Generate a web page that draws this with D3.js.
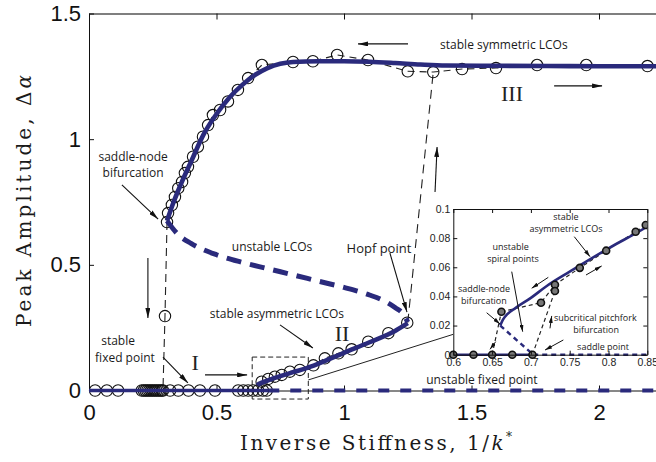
<!DOCTYPE html>
<html><head><meta charset="utf-8">
<script src="https://cdn.jsdelivr.net/npm/d3@7"></script>
<style>body{margin:0;background:#fff}svg{display:block}</style>
</head><body><svg id="chart" width="656" height="462"></svg>
<script>
// ---------- tick values ----------
const xTicks = [0, 0.5, 1, 1.5, 2];
const yTicks = [0, 0.5, 1, 1.5];
const insetXTicks = [0.6, 0.65, 0.7, 0.75, 0.8, 0.85];
const insetYTicks = [0, 0.02, 0.04, 0.06, 0.08, 0.1];

// ---------- continuation branches ----------
const stableFixedX = [0, 0.703];
const unstableFixedX = [0.703, 2.3];

const symLcoX = [0.306, 0.33, 0.36, 0.40, 0.45, 0.50, 0.55, 0.60, 0.65, 0.70, 0.75, 0.80, 0.90, 1.00, 1.10, 1.20, 1.30, 1.40, 1.60, 1.80, 2.00, 2.30];
const symLcoY = [0.675, 0.745, 0.82, 0.91, 1.02, 1.10, 1.165, 1.215, 1.255, 1.283, 1.300, 1.307, 1.310, 1.310, 1.308, 1.303, 1.297, 1.293, 1.292, 1.291, 1.290, 1.290];

const unstableLcoX = [0.306, 0.35, 0.40, 0.50, 0.60, 0.70, 0.80, 0.90, 1.00, 1.10, 1.15, 1.20, 1.235, 1.25];
const unstableLcoY = [0.675, 0.62, 0.585, 0.54, 0.51, 0.485, 0.46, 0.435, 0.41, 0.38, 0.36, 0.33, 0.30, 0.272];

const asymLcoX = [0.6605, 0.664, 0.67, 0.68, 0.70, 0.72, 0.75, 0.80, 0.85, 0.90, 1.00, 1.10, 1.20, 1.25];
const asymLcoY = [0.020, 0.024, 0.028, 0.032, 0.039, 0.047, 0.057, 0.073, 0.088, 0.107, 0.150, 0.192, 0.237, 0.268];

const spiralX = [0.6605, 0.703];
const spiralY = [0.020, 0];

// ---------- time-marching results ----------
const symPtsX = [0.306, 0.31, 0.325, 0.337, 0.35, 0.365, 0.376, 0.388, 0.408, 0.427, 0.447, 0.467, 0.486, 0.514, 0.545, 0.584, 0.624, 0.678, 0.80, 0.878, 0.973, 1.094, 1.25, 1.35, 1.463, 1.596, 1.757, 1.95, 2.19];
const symPtsY = [0.67, 0.706, 0.738, 0.77, 0.805, 0.83, 0.865, 0.89, 0.93, 0.97, 1.01, 1.056, 1.096, 1.116, 1.15, 1.196, 1.243, 1.295, 1.307, 1.31, 1.335, 1.315, 1.27, 1.267, 1.279, 1.283, 1.295, 1.295, 1.291];

const zeroPtsX = [0.024, 0.07, 0.114, 0.207, 0.215, 0.222, 0.229, 0.236, 0.243, 0.25, 0.257, 0.264, 0.271, 0.278, 0.285, 0.29, 0.318, 0.35, 0.39, 0.435, 0.494, 0.585, 0.605, 0.624, 0.643, 0.663, 0.682, 0.697];

const asymPtsX = [0.677, 0.703, 0.729, 0.756, 0.788, 0.827, 0.88, 0.925, 0.978, 1.03, 1.095, 1.174, 1.248];
const asymPtsY = [0.035, 0.046, 0.055, 0.062, 0.075, 0.082, 0.10, 0.128, 0.148, 0.164, 0.194, 0.228, 0.27];

const jumpDownX = [0.306, 0.298, 0.29];
const jumpDownY = [0.67, 0.296, 0];
const jumpUpX = [1.25, 1.35];
const jumpUpY = [0.27, 1.267];

// inset close-up results
const insetPtsX = [0.6, 0.626, 0.65, 0.676, 0.702, 0.662, 0.713, 0.731, 0.731, 0.763, 0.797, 0.835, 0.848];
const insetPtsY = [0, 0, 0, 0, 0, 0.0295, 0.0357, 0.048, 0.0437, 0.0596, 0.0714, 0.0844, 0.089];
const insetJump1X = [0.65, 0.662];
const insetJump1Y = [0, 0.0295];
const insetPathX = [0.662, 0.713, 0.731, 0.763, 0.797, 0.835, 0.848];
const insetPathY = [0.0295, 0.0357, 0.048, 0.0596, 0.0714, 0.0844, 0.089];
const insetJump2X = [0.702, 0.731, 0.731];
const insetJump2Y = [0, 0.0437, 0.048];

// ---------- layout ----------
const NAVY = "#2a2a7c";
const svg = d3.select("#chart");
const x = d3.scaleLinear().domain([0, 2.2235]).range([89, 656]);
const y = d3.scaleLinear().domain([0, 1.5]).range([390.5, 13.5]);
const xi = d3.scaleLinear().domain([0.6, 0.85]).range([453.3, 647.3]);
const yi = d3.scaleLinear().domain([0, 0.1]).range([354.7, 209]);

const zip = (xs, ys) => xs.map((v, i) => [v, ys[i]]);
const line = (sx, sy) => d3.line().x(d => sx(d[0])).y(d => sy(d[1]));
const lineC = (sx, sy) => d3.line().curve(d3.curveMonotoneX).x(d => sx(d[0])).y(d => sy(d[1]));

// arrowhead markers
const defs = svg.append("defs");
function marker(id, w, h) {
  defs.append("marker").attr("id", id).attr("markerUnits", "userSpaceOnUse")
    .attr("markerWidth", w).attr("markerHeight", h).attr("refX", w).attr("refY", h / 2)
    .attr("orient", "auto")
    .append("path").attr("d", `M0,0L${w},${h/2}L0,${h}Z`).attr("fill", "#111");
}
marker("ah", 10, 5);
marker("ahs", 7, 4);

// ---------- main axes ----------
const fontSans = "'Liberation Sans', Arial, sans-serif";
const fontSerif = "'Liberation Serif', 'Times New Roman', serif";
const fontTitle = "'DejaVu Serif', 'Liberation Serif', serif";
const fontNote = "'Open Sans', 'Noto Sans', sans-serif";

const gx = svg.append("g").attr("transform", `translate(0,${y(0)})`)
  .call(d3.axisBottom(x).tickValues(xTicks).tickSize(-5).tickSizeOuter(0).tickPadding(14).tickFormat(d3.format("")));
const gxt = svg.append("g").attr("transform", `translate(0,${y(1.5)})`)
  .call(d3.axisTop(x).tickValues(xTicks).tickSize(-6).tickSizeOuter(0).tickFormat(""));
const gy = svg.append("g").attr("transform", `translate(${x(0)},0)`)
  .call(d3.axisLeft(y).tickValues(yTicks).tickSize(-5).tickSizeOuter(0).tickPadding(8).tickFormat(d3.format("")));
[gx, gxt, gy].forEach(g => {
  g.selectAll("path.domain").attr("stroke", "#111").attr("stroke-width", 1);
  g.selectAll(".tick line").attr("stroke", "#111");
  g.selectAll("text").attr("font-family", fontSans).attr("font-size", 22).attr("fill", "#111");
});
gxt.select("path.domain").attr("stroke", "#555").attr("stroke-width", 1.6);

// axis titles
svg.append("text").attr("x", 376).attr("y", 450).attr("text-anchor", "middle")
  .attr("font-family", fontTitle).attr("font-size", 20).attr("fill", "#1a1a1a")
  .attr("textLength", 272).attr("lengthAdjust", "spacing")
  .call(t => {
    t.append("tspan").text("Inverse Stiffness, 1/");
    t.append("tspan").attr("font-style", "italic").text("k");
    t.append("tspan").attr("font-size", 12).attr("dy", -9).text("*");
  });
svg.append("text").attr("transform", "translate(31,201) rotate(-90)").attr("text-anchor", "middle")
  .attr("font-family", fontTitle).attr("font-size", 20).attr("fill", "#1a1a1a")
  .attr("textLength", 252).attr("lengthAdjust", "spacing")
  .call(t => {
    t.append("tspan").text("Peak Amplitude, Δ");
    t.append("tspan").attr("font-style", "italic").text("α");
  });

// ---------- main plot content ----------
const main = svg.append("g");

// thin dashed time-marching paths
const thinDash = (g, pts, dash) => g.append("path").datum(pts).attr("d", line(x, y))
  .attr("fill", "none").attr("stroke", "#222").attr("stroke-width", 1.1).attr("stroke-dasharray", dash);
thinDash(main, zip(symPtsX, symPtsY), "7,5");
thinDash(main, zip(jumpDownX, jumpDownY), "8,5");
thinDash(main, zip(jumpUpX, jumpUpY), "9,6");
thinDash(main, zip(asymPtsX, asymPtsY), "6,4");

// zoom box and connector
main.append("rect").attr("x", x(0.64)).attr("y", y(0.133)).attr("width", x(0.86) - x(0.64)).attr("height", y(-0.034) - y(0.133))
  .attr("fill", "none").attr("stroke", "#222").attr("stroke-width", 1).attr("stroke-dasharray", "5,3");
main.append("line").attr("x1", x(0.86)).attr("y1", y(0.042)).attr("x2", xi(0.6)).attr("y2", yi(0.014))
  .attr("stroke", "#222").attr("stroke-width", 1);

// open circles
const circ = (g, pts) => g.selectAll(null).data(pts).join("circle")
  .attr("cx", d => x(d[0])).attr("cy", d => y(d[1])).attr("r", 5.7)
  .attr("fill", "none").attr("stroke", "#111").attr("stroke-width", 1.1);
circ(main, zip(symPtsX, symPtsY));
circ(main, zeroPtsX.map(v => [v, 0]));
circ(main, zip(asymPtsX, asymPtsY));
circ(main, [[jumpDownX[1], jumpDownY[1]]]);

// continuation branches
main.append("path").datum(unstableFixedX.map(v => [v, 0])).attr("d", line(x, y))
  .attr("fill", "none").attr("stroke", NAVY).attr("stroke-width", 4).attr("stroke-dasharray", "11,11");
main.append("path").datum(stableFixedX.map(v => [v, 0])).attr("d", line(x, y))
  .attr("fill", "none").attr("stroke", NAVY).attr("stroke-width", 3.6);
main.append("path").datum(zip(unstableLcoX, unstableLcoY)).attr("d", lineC(x, y))
  .attr("fill", "none").attr("stroke", NAVY).attr("stroke-width", 5).attr("stroke-dasharray", "15,9");
main.append("path").datum(zip(symLcoX, symLcoY)).attr("d", lineC(x, y))
  .attr("fill", "none").attr("stroke", NAVY).attr("stroke-width", 4.6);
main.append("path").datum(zip(asymLcoX, asymLcoY)).attr("d", lineC(x, y))
  .attr("fill", "none").attr("stroke", NAVY).attr("stroke-width", 4.6);

// annotations
const note = (g, sx, sy, xv, yv, txt, size, fam, col) => g.append("text")
  .attr("x", sx(xv)).attr("y", sy(yv)).attr("dy", "0.35em").attr("text-anchor", "middle")
  .attr("font-family", fam || fontNote).attr("font-size", size).attr("fill", col || "#1a1a1a").text(txt);
const arrow = (g, sx, sy, a, b, m, w) => g.append("line")
  .attr("x1", sx(a[0])).attr("y1", sy(a[1])).attr("x2", sx(b[0])).attr("y2", sy(b[1]))
  .attr("stroke", "#111").attr("stroke-width", w || 1.1).attr("marker-end", `url(#${m})`);

note(main, x, y, 1.627, 1.375, "stable symmetric LCOs", 12);
note(main, x, y, 1.659, 1.184, "III", 22, fontSerif, "#222");
note(main, x, y, 0.173, 0.929, "saddle-node", 12);
note(main, x, y, 0.173, 0.865, "bifurcation", 12);
note(main, x, y, 0.718, 0.571, "unstable LCOs", 12);
note(main, x, y, 0.737, 0.304, "stable asymmetric LCOs", 12);
note(main, x, y, 0.992, 0.229, "II", 22, fontSerif, "#222");
note(main, x, y, 0.114, 0.197, "stable", 12);
note(main, x, y, 0.141, 0.129, "fixed point", 12);
note(main, x, y, 0.416, 0.113, "I", 22, fontSerif, "#222");
note(main, x, y, 1.137, 0.567, "Hopf point", 13);
note(main, x, y, 1.541, 0.042, "unstable fixed point", 12);

arrow(main, x, y, [1.251, 1.379], [1.055, 1.379], "ah");
arrow(main, x, y, [1.824, 1.212], [2.012, 1.212], "ah");
arrow(main, x, y, [1.357, 0.79], [1.365, 0.969], "ah");
arrow(main, x, y, [0.129, 0.818], [0.271, 0.682], "ah");
arrow(main, x, y, [0.231, 0.527], [0.231, 0.288], "ah");
arrow(main, x, y, [0.749, 0.261], [0.878, 0.169], "ah");
arrow(main, x, y, [0.29, 0.133], [0.388, 0.03], "ah");
arrow(main, x, y, [0.455, 0.062], [0.62, 0.062], "ah");
arrow(main, x, y, [1.18, 0.547], [1.247, 0.312], "ah");

// ---------- inset ----------
const ins = svg.append("g");
ins.append("rect").attr("x", xi(0.6)).attr("y", yi(0.1)).attr("width", xi(0.85) - xi(0.6)).attr("height", yi(0) - yi(0.1))
  .attr("fill", "#fff");
defs.append("clipPath").attr("id", "insclip").append("rect")
  .attr("x", xi(0.6) - 6).attr("y", yi(0.1)).attr("width", xi(0.85) - xi(0.6) + 6).attr("height", yi(0) - yi(0.1) + 6);
const ic = ins.append("g").attr("clip-path", "url(#insclip)");

const thinI = (pts, dash) => ic.append("path").datum(pts).attr("d", line(xi, yi))
  .attr("fill", "none").attr("stroke", "#222").attr("stroke-width", 1.2).attr("stroke-dasharray", dash);
thinI(zip(insetJump1X, insetJump1Y), "4,3");
thinI(zip(insetPathX, insetPathY), "4,3");
thinI(zip(insetJump2X, insetJump2Y), "4,3");

ic.append("path").datum([[0.703, 0], [0.86, 0]]).attr("d", line(xi, yi))
  .attr("fill", "none").attr("stroke", NAVY).attr("stroke-width", 2.4).attr("stroke-dasharray", "5,4");
ic.append("path").datum([[0.6, 0], [0.703, 0]]).attr("d", line(xi, yi))
  .attr("fill", "none").attr("stroke", NAVY).attr("stroke-width", 2.6);
ic.append("path").datum(zip(spiralX, spiralY)).attr("d", line(xi, yi))
  .attr("fill", "none").attr("stroke", NAVY).attr("stroke-width", 2.4).attr("stroke-dasharray", "5,4");
ic.append("path").datum(zip(asymLcoX, asymLcoY)).attr("d", lineC(xi, yi))
  .attr("fill", "none").attr("stroke", NAVY).attr("stroke-width", 2.6);

ic.selectAll(null).data(zip(insetPtsX, insetPtsY)).join("circle")
  .attr("cx", d => xi(d[0])).attr("cy", d => yi(d[1])).attr("r", 3.5)
  .attr("fill", "#777").attr("stroke", "#111").attr("stroke-width", 1.6);

// inset frame and ticks
const fmt = d3.format("");
const gix = ins.append("g").attr("transform", `translate(0,${yi(0)})`)
  .call(d3.axisBottom(xi).tickValues(insetXTicks).tickSize(-4).tickSizeOuter(0).tickPadding(4).tickFormat(fmt));
const gixt = ins.append("g").attr("transform", `translate(0,${yi(0.1)})`)
  .call(d3.axisTop(xi).tickValues(insetXTicks).tickSize(-4).tickSizeOuter(0).tickFormat(""));
const giy = ins.append("g").attr("transform", `translate(${xi(0.6)},0)`)
  .call(d3.axisLeft(yi).tickValues(insetYTicks).tickSize(-4).tickSizeOuter(0).tickPadding(3).tickFormat(fmt));
const giyr = ins.append("g").attr("transform", `translate(${xi(0.85)},0)`)
  .call(d3.axisRight(yi).tickValues(insetYTicks).tickSize(-4).tickSizeOuter(0).tickFormat(""));
[gix, gixt, giy, giyr].forEach(g => {
  g.selectAll("path.domain").attr("stroke", "#111").attr("stroke-width", 1);
  g.selectAll(".tick line").attr("stroke", "#111");
  g.selectAll("text").attr("font-family", fontSans).attr("font-size", 10.5).attr("fill", "#222");
});

note(ins, xi, yi, 0.7452, 0.0945, "stable", 9);
note(ins, xi, yi, 0.7452, 0.0863, "asymmetric LCOs", 9);
note(ins, xi, yi, 0.674, 0.0739, "unstable", 9);
note(ins, xi, yi, 0.677, 0.0657, "spiral points", 9);
note(ins, xi, yi, 0.6395, 0.0451, "saddle-node", 9);
note(ins, xi, yi, 0.6395, 0.0369, "bifurcation", 9);
note(ins, xi, yi, 0.783, 0.0252, "subcritical pitchfork", 9);
note(ins, xi, yi, 0.784, 0.0173, "bifurcation", 9);
note(ins, xi, yi, 0.793, 0.0053, "saddle point", 9);

arrow(ins, xi, yi, [0.6546, 0.0089], [0.6473, 0.0037], "ahs", 1);
arrow(ins, xi, yi, [0.7224, 0.0531], [0.701, 0.0456], "ahs", 1);
arrow(ins, xi, yi, [0.771, 0.0547], [0.7912, 0.0609], "ahs", 1);
arrow(ins, xi, yi, [0.7246, 0.0181], [0.7268, 0.0266], "ahs", 1);
arrow(ins, xi, yi, [0.643, 0.0288], [0.6602, 0.0211], "ahs", 1);
arrow(ins, xi, yi, [0.6753, 0.057], [0.6894, 0.0158], "ahs", 1);
arrow(ins, xi, yi, [0.7559, 0.081], [0.7762, 0.0673], "ahs", 1);
arrow(ins, xi, yi, [0.7418, 0.0101], [0.7182, 0.0032], "ahs", 1);
</script></body></html>
